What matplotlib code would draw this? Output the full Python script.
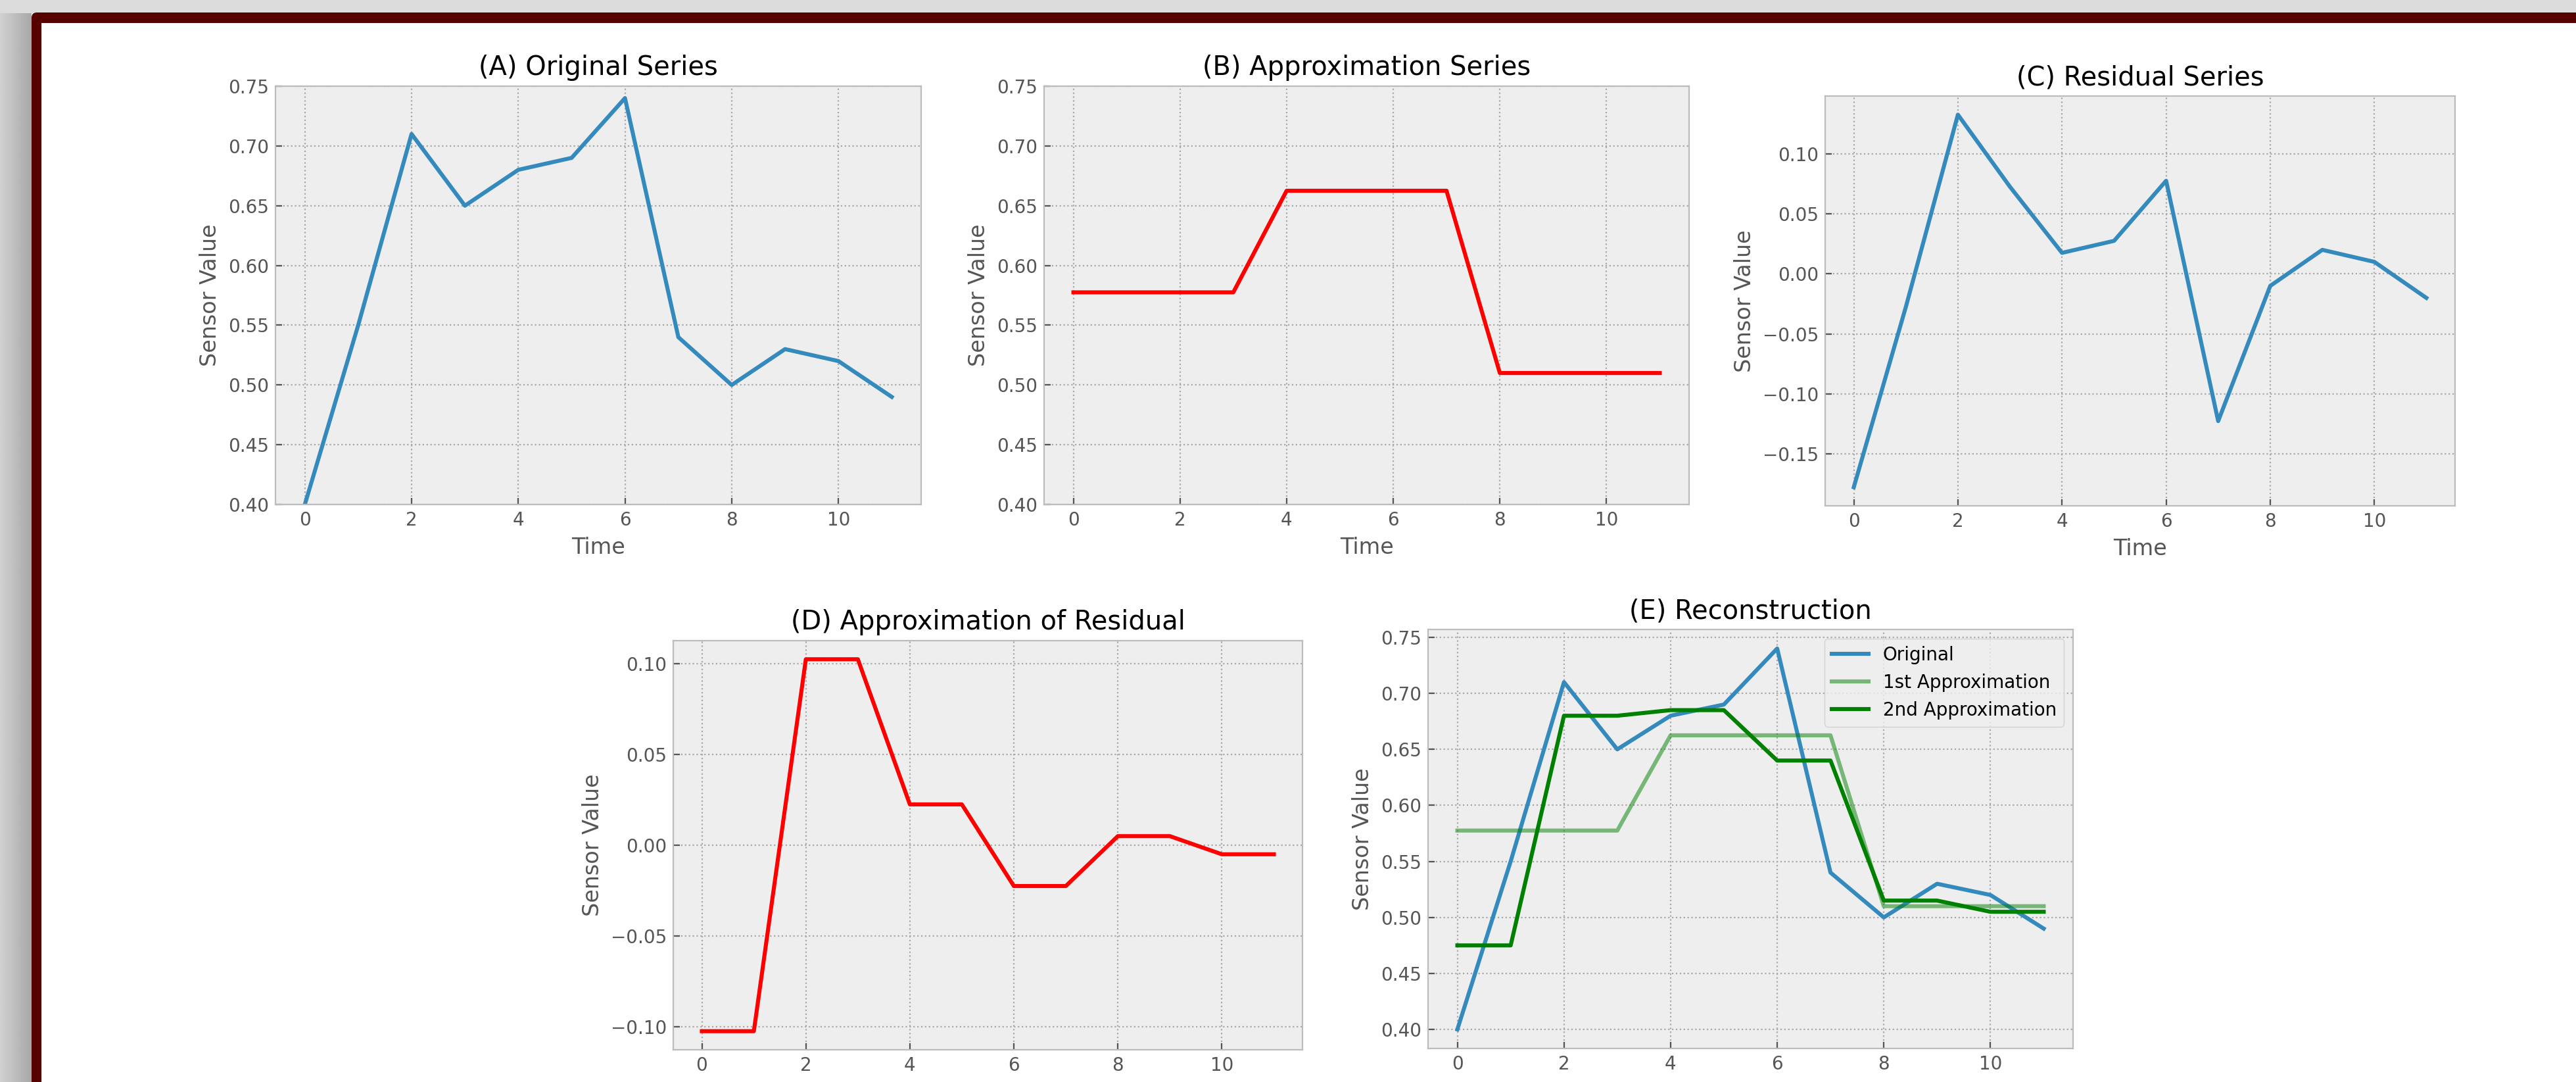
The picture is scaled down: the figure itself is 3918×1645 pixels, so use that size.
import numpy as np
import matplotlib
matplotlib.use("Agg")
import matplotlib.pyplot as plt
from matplotlib.patches import Rectangle, FancyBboxPatch

plt.style.use("bmh")
plt.rcParams["font.family"] = ["DejaVu Sans"]
plt.rcParams["font.size"] = 10
plt.rcParams["grid.linestyle"] = ":"
plt.rcParams["grid.color"] = "#a8a8a8"
plt.rcParams["grid.linewidth"] = 0.8
plt.rcParams["xtick.color"] = "#555555"
plt.rcParams["ytick.color"] = "#555555"
plt.rcParams["axes.labelcolor"] = "#555555"
plt.rcParams["lines.linewidth"] = 2.2

# data
time = list(range(12))
original = [0.40, 0.55, 0.71, 0.65, 0.68, 0.69, 0.74, 0.54, 0.50, 0.53, 0.52, 0.49]
approx_1 = [0.5775, 0.5775, 0.5775, 0.5775, 0.6625, 0.6625, 0.6625, 0.6625,
            0.51, 0.51, 0.51, 0.51]
residual = [-0.1775, -0.0275, 0.1325, 0.0725, 0.0175, 0.0275, 0.0775, -0.1225,
            -0.01, 0.02, 0.01, -0.02]
approx_res = [-0.1025, -0.1025, 0.1025, 0.1025, 0.0225, 0.0225, -0.0225, -0.0225,
              0.005, 0.005, -0.005, -0.005]
approx_2 = [0.475, 0.475, 0.68, 0.68, 0.685, 0.685, 0.64, 0.64,
            0.515, 0.515, 0.505, 0.505]

W, H = 3918, 1645
DPI = 200
fig = plt.figure(figsize=(W / DPI, H / DPI), dpi=DPI, facecolor="white")


def px_axes(left, top, right, bottom, **kw):
    return fig.add_axes([left / W, 1 - bottom / H, (right - left) / W, (bottom - top) / H], **kw)


# frame around the picture
bg = fig.add_axes([0, 0, 1, 1], zorder=-10)
bg.set_xlim(0, W)
bg.set_ylim(H, 0)
bg.axis("off")
bg.add_patch(Rectangle((0, 0), W, 20, color="#dcdcdc", lw=0))
grad = np.linspace(0.82, 0.66, 50).reshape(1, -1)
bg.imshow(grad, cmap="gray", vmin=0, vmax=1, extent=(0, 48, H, 20), aspect="auto")
grad_top = np.linspace(0.86, 0.79, 20).reshape(1, -1)
bg.imshow(grad_top, cmap="gray", vmin=0, vmax=1, extent=(0, 48, 20, 0), aspect="auto")
bg.add_patch(FancyBboxPatch((48, 19), W + 50, H + 50, boxstyle="round,pad=0,rounding_size=8",
                            fc="#560000", ec="none"))
bg.add_patch(Rectangle((63, 35), W, H, color="white", lw=0))
shade = np.linspace(0.78, 0.88, 14).reshape(-1, 1)
bg.imshow(shade, cmap="gray", vmin=0, vmax=1, extent=(63, W, 48, 35), aspect="auto")
bg.set_xlim(0, W)
bg.set_ylim(H, 0)

# (A) original
ax = px_axes(419, 131, 1401, 767)
ax.plot(time, original, color="#348ABD")
ax.set_ylim(0.40, 0.75)
ax.set_title("(A) Original Series")
ax.set_xlabel("Time")
ax.set_ylabel("Sensor Value")

# (B) approximation
ax = px_axes(1588, 131, 2569, 767)
ax.plot(time, approx_1, color="red")
ax.set_ylim(0.40, 0.75)
ax.set_title("(B) Approximation Series")
ax.set_xlabel("Time")
ax.set_ylabel("Sensor Value")

# (C) residual
ax = px_axes(2776, 146, 3734, 769)
ax.plot(time, residual, color="#348ABD")
ax.set_title("(C) Residual Series")
ax.set_xlabel("Time")
ax.set_ylabel("Sensor Value")

# (D) approximation of residual (x label falls below the cropped edge)
ax = px_axes(1024, 974, 1981, 1596)
ax.plot(time, approx_res, color="red")
ax.set_title("(D) Approximation of Residual")
ax.set_ylabel("Sensor Value")

# (E) reconstruction
ax = px_axes(2172, 957, 3153, 1594)
ax.plot(time, original, color="#348ABD", label="Original")
ax.plot(time, approx_1, color="green", alpha=0.5, label="1st Approximation")
ax.plot(time, approx_2, color="green", label="2nd Approximation")
ax.set_title("(E) Reconstruction")
ax.set_ylabel("Sensor Value")
ax.legend(loc="upper right")

fig.savefig("out.png", dpi=DPI)
